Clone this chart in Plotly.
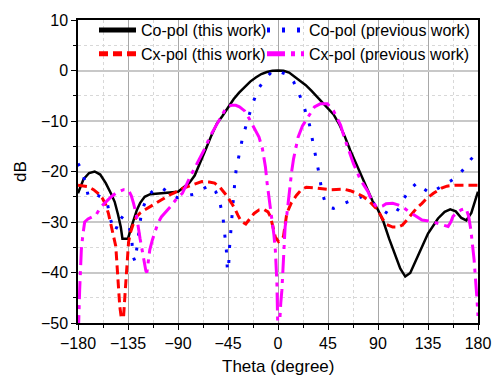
import plotly.graph_objects as go

# Co-pol (this work)
co_this_theta = [-180, -175, -170, -165, -160, -155, -150, -147, -144, -141.5, -140, -135, -132, -130, -127, -124, -120, -115,
                 -105, -95, -90, -86, -80, -75, -70, -65, -60, -55, -50, -45, -40, -35, -30, -25, -20, -15, -10, -5, 0, 3,
                 5, 10, 15, 20, 25, 30, 35, 40, 45, 50, 55, 60, 65, 70, 75, 80, 85, 90, 95, 100, 105, 110, 114.5, 119,
                 127, 135, 144, 150, 155, 160, 165, 169.5, 174, 178, 180]
co_this_db = [-24.3, -21.5, -20.3, -20.0, -20.6, -22.3, -24.5, -26.0, -28.5, -31.0, -33.3, -33.3, -31.0, -29.6, -27.6, -26.2, -25.0, -24.5,
              -24.3, -24.2, -24.0, -23.3, -22.3, -20.8, -18.3, -15.6, -12.9, -10.5, -9.0, -7.4, -5.7, -4.4, -3.2, -2.2, -1.4, -0.7, -0.3, -0.05, 0.0, 0.0,
              -0.05, -0.4, -1.2, -2.0, -2.9, -4.0, -5.2, -6.3, -7.5, -8.7, -10.6, -13.0, -15.8, -18.3, -20.9, -23.3, -25.8, -27.6, -30.0, -33.3, -36.3, -39.2, -40.8, -40.1,
              -36.2, -32.3, -29.3, -28.0, -27.5, -27.9, -29.2, -29.7, -28.2, -25.5, -24.0]

# Co-pol (previous work)
co_prev_theta = [-180, -177, -174, -170.6, -166, -162.4, -158, -153.6, -150.6, -147.1, -145, -142.4, -138, -134.5, -131.6, -130.7,
                 -128.6, -126.6, -125.1, -122.8, -117, -111, -105.2, -98, -90.5, -83, -75.8, -68, -61.2, -56, -52.4, -49.4,
                 -48, -46.5, -45.5, -44.6, -43.6, -42.1, -40.6, -39.2, -37.7, -34.7, -31.8, -27.4, -23, -17.1, -11, -5.4,
                 -2, 2, 5, 9.3, 14, 18.1, 21, 24, 28.4, 31.3, 34.3, 37.2, 39.5, 42, 45.4, 50, 55, 60, 67, 75.3, 82, 88.5,
                 95, 100, 104.7, 109, 113.5, 119, 125.2, 131, 136.9, 143, 148.7, 156, 162.5, 168, 173.6, 180]
co_prev_db = [-18.4, -19.5, -21.7, -25.0, -25.2, -24.7, -25.2, -26.3, -29.6, -31.9, -31.0, -28.8, -29.5, -30.5, -33.2, -36.7,
              -37.8, -34.5, -31.2, -27.9, -24.7, -23.6, -23.1, -24.3, -25.2, -24.8, -24.5, -23.5, -22.7, -24.0, -26.0, -29.3,
              -32.5, -35.5, -39.7, -39.5, -35.0, -29.9, -26.6, -23.0, -19.7, -16.4, -13.2, -9.9, -6.6, -3.4, -1.5, -0.2,
              0.0, -0.3, -0.5, -0.9, -2.2, -4.1, -5.7, -7.6, -10.8, -14.1, -17.4, -20.7, -24.0, -25.8, -27.1, -27.3, -26.8, -26.3, -25.6, -25.0, -25.7, -26.8,
              -27.8, -28.5, -28.6, -27.2, -25.3, -23.5, -22.2, -23.4, -24.3, -23.5, -22.7, -21.8, -20.7, -19.3, -17.6, -16.0]

# Cx-pol (this work)
cx_this_theta = [-180, -175, -171, -166, -162, -158, -155, -152.5, -150.5, -148, -146, -144.2, -142.4, -141, -139, -137.4, -136,
                 -134.5, -133, -130, -127.2, -124, -120, -115, -110, -104, -98, -93, -88, -82, -75, -68.5, -62, -57, -52,
                 -46.5, -42, -39, -36, -33, -29, -25, -21.5, -17, -12.7, -9, -6.9, -4.5, -2.4, 0.5, 3, 4.9, 7.9, 12, 16.7,
                 21, 25.5, 35.7, 47.5, 59.2, 65, 70.9, 77, 82.7, 88, 91.5, 94.4, 98, 103.2, 108, 112, 116, 120.8, 125,
                 129.6, 134, 139.9, 147.2, 152, 158.9, 170, 180]
cx_this_db = [-22.7, -22.8, -23.0, -23.6, -24.3, -25.3, -26.6, -28.4, -30.2, -32.5, -34.8, -40.8, -46.7, -49.0, -48.8, -43.4, -37.5,
              -34.0, -32.2, -30.2, -28.9, -28.2, -27.6, -26.9, -26.3, -25.5, -24.7, -24.2, -23.5, -23.0, -22.4, -22.0, -22.1, -22.3, -23.2,
              -24.7, -26.2, -27.3, -28.7, -29.9, -30.4, -29.4, -28.3, -27.6, -27.5, -28.0, -28.9, -31.0, -33.0, -33.9, -33.5, -32.9, -28.3, -26.2, -24.7,
              -23.6, -23.1, -23.3, -23.6, -23.5, -23.8, -24.3, -25.0, -26.0, -27.2, -28.3, -29.5, -30.5, -31.0, -31.0, -30.6, -29.6, -28.3, -27.2,
              -26.3, -25.3, -24.3, -23.3, -22.9, -22.7, -22.7, -22.7]

# Cx-pol (previous work)
cx_prev_theta = [-180, -179.4, -178.5, -177, -175.6, -174, -171, -167, -163.8, -159.4, -155, -150, -146, -143.3, -139, -134.5,
                 -132, -130, -127.2, -124.2, -121.3, -118.9, -118, -117, -115.4, -113, -111, -108, -105, -102, -97, -92,
                 -86, -79, -72, -66, -61, -58, -54, -50, -46.5, -42, -38, -34.7, -30, -26, -22, -17.1, -14, -11.3, -9.8,
                 -7.5, -5.4, -3.7, -2.4, -1, -0.1, 1, 2.5, 3.5, 4.9, 6.4, 8, 10.8, 12.3, 14, 18.1, 22, 26.9, 32.8, 38,
                 44.5, 50, 56.3, 60, 64, 68, 73.9, 77, 81, 84.1, 88.5, 91.5, 94.4, 97.3, 103.2, 108, 112, 117, 122.3,
                 129.6, 138.4, 145.7, 153.1, 155.5, 157.5, 161, 164.8, 169.2, 171.5, 173.6, 176.5, 178.9, 180]
cx_prev_db = [-52.0, -50.0, -43.4, -35.5, -32.5, -30.0, -29.4, -29.0, -28.6, -27.0, -26.0, -25.0, -24.3, -24.0, -23.6, -23.7,
              -24.8, -26.3, -28.9, -33.2, -36.8, -39.7, -40.0, -38.5, -35.5, -33.5, -32.0, -30.2, -29.0, -28.3, -27.0, -25.6,
              -24.3, -21.0, -18.0, -15.5, -13.0, -11.8, -10.0, -8.5, -7.3, -6.9, -6.9, -7.2, -8.0, -9.5, -11.2, -13.2, -15.5, -19.1, -22.3,
              -26.0, -29.0, -32.5, -35.5, -42.0, -52.0, -52.0, -46.0, -43.5, -37.5, -31.0, -28.5, -22.0, -20.0, -17.5, -13.2, -11.0, -9.2, -7.2, -6.6,
              -6.6, -8.0, -10.8, -13.5, -16.0, -18.5, -21.5, -22.5, -24.0, -25.6, -27.0, -27.0, -26.8, -26.4, -26.3, -26.6, -27.0, -27.8, -28.6,
              -29.6, -29.9, -30.4, -30.9, -30.0, -28.9, -28.2, -27.6, -27.3, -28.8, -31.6, -37.5, -44.7, -48.6]

x_ticks = [-180, -135, -90, -45, 0, 45, 90, 135, 180]
y_ticks = [-50, -40, -30, -20, -10, 0, 10]

font_family = "Arial, Liberation Sans, sans-serif"

fig = go.Figure()
fig.add_trace(go.Scatter(x=co_this_theta, y=co_this_db, mode="lines", name="Co-pol (this work)",
                         line=dict(color="#000000", width=2.5), legend="legend"))
fig.add_trace(go.Scatter(x=co_prev_theta, y=co_prev_db, mode="lines", name="Co-pol (previous work)",
                         line=dict(color="#0000ff", width=3, dash="3px,12px"), legend="legend2"))
fig.add_trace(go.Scatter(x=cx_this_theta, y=cx_this_db, mode="lines", name="Cx-pol (this work)",
                         line=dict(color="#ff0000", width=3, dash="9px,5px"), legend="legend"))
fig.add_trace(go.Scatter(x=cx_prev_theta, y=cx_prev_db, mode="lines", name="Cx-pol (previous work)",
                         line=dict(color="#ff00ff", width=3, dash="18px,6px,4px,6px"), legend="legend2"))

leg_common = dict(orientation="v", yanchor="top", xanchor="left", bgcolor="rgba(0,0,0,0)",
                  font=dict(family=font_family, size=16, color="black"), tracegroupgap=0,
                  itemsizing="constant", itemwidth=37)

fig.update_layout(
    width=503, height=380,
    margin=dict(l=78, r=16, t=19, b=57),
    paper_bgcolor="white", plot_bgcolor="white",
    font=dict(family=font_family, size=16, color="black"),
    showlegend=True,
    legend=dict(x=0.04, y=1.023, **leg_common),
    legend2=dict(x=0.46, y=1.023, **leg_common),
    xaxis=dict(range=[-180, 180], tickvals=x_ticks, ticktext=[str(v).replace("-", "\u2212") for v in x_ticks],
               showgrid=True, gridcolor="#a8a8a8", gridwidth=1,
               showline=True, linecolor="black", linewidth=1.5, mirror=True,
               ticks="outside", ticklen=5, tickwidth=1, tickcolor="black", zeroline=False,
               minor=dict(dtick=22.5, tick0=-180, ticks="outside", ticklen=3, tickcolor="black",
                          showgrid=True, gridcolor="#d8d8d8", griddash="dot", gridwidth=1)),
    yaxis=dict(range=[-50, 10], tickvals=y_ticks, ticktext=[str(v).replace("-", "\u2212") for v in y_ticks],
               showgrid=True, gridcolor="#c8c8c8", gridwidth=1.5,
               showline=True, linecolor="black", linewidth=1.5, mirror=True,
               ticks="outside", ticklen=5, tickwidth=1, tickcolor="black", zeroline=False,
               minor=dict(dtick=5, tick0=-50, ticks="outside", ticklen=3, tickcolor="black",
                          showgrid=True, gridcolor="#d8d8d8", griddash="dot", gridwidth=1),
               title=dict(text="dB", font=dict(size=17), standoff=10)),
    annotations=[dict(text="Theta (degree)", xref="paper", yref="paper", x=0.5, y=-0.145,
                      xanchor="center", yanchor="middle", showarrow=False,
                      font=dict(family=font_family, size=17, color="black"))],
)

fig.write_html("out.html")
